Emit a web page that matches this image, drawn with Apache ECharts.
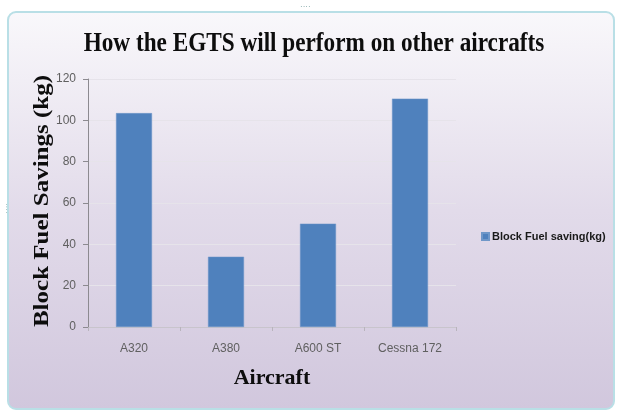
<!DOCTYPE html>
<html>
<head>
<meta charset="utf-8">
<script src="https://cdn.jsdelivr.net/npm/echarts@6/dist/echarts.min.js"></script>
<style>
html,body{margin:0;padding:0;background:#ffffff;}
#c{width:617px;height:412px;}
</style>
</head>
<body>
<div id="c"></div>
<script>
const categories = ['A320', 'A380', 'A600 ST', 'Cessna 172'];
const fuelSavings = [103.5, 34, 50, 110.5];
const yTicks = [0, 20, 40, 60, 80, 100, 120];
const seriesName = 'Block Fuel saving(kg)';
const titleText = 'How the EGTS will perform on other aircrafts';
const yAxisTitle = 'Block Fuel Savings (kg)';
const xAxisTitle = 'Aircraft';

const chart = echarts.init(document.getElementById('c'), null, {renderer: 'canvas'});
chart.setOption({
  animation: false,
  backgroundColor: '#ffffff',
  graphic: [
    {
      type: 'rect', z: -10, silent: true,
      shape: {x: 8, y: 12, width: 606, height: 397, r: 8},
      style: {
        fill: new echarts.graphic.LinearGradient(0, 0, 0, 1, [
          {offset: 0, color: '#f9f8fb'},
          {offset: 0.5, color: '#e2dbea'},
          {offset: 1, color: '#d1c7dd'}
        ]),
        stroke: '#b9dfe6', lineWidth: 2
      }
    },
    {
      type: 'text', x: 314, y: 44, scaleX: 0.86, silent: true,
      style: {text: titleText, fill: '#0d0d0d', font: 'bold 27px "Liberation Serif"', align: 'center', verticalAlign: 'middle'}
    },
    {
      type: 'text', x: 42, y: 201, rotation: Math.PI / 2, scaleY: 0.88, silent: true,
      style: {text: yAxisTitle, fill: '#0d0d0d', font: 'bold 25px "Liberation Serif"', align: 'center', verticalAlign: 'middle'}
    },
    {type: 'text', left: 300, top: 3, silent: true, style: {text: '····', fill: '#8aa', font: '8px sans-serif'}},
    {type: 'text', left: 3, top: 203, rotation: Math.PI/2, silent: true, style: {text: '····', fill: '#8aa', font: '8px sans-serif'}}
  ],
  legend: {
    data: [seriesName],
    left: 476, top: 226, orient: 'vertical',
    itemWidth: 7, itemHeight: 7, itemGap: 4,
    icon: 'rect',
    textStyle: {fontFamily: 'Liberation Sans', fontWeight: 'bold', fontSize: 11, color: '#1a1a1a', padding: [0,0,0,-2]}
  },
  grid: {left: 88, right: 161, top: 79, bottom: 85},
  xAxis: {
    type: 'category',
    data: categories,
    name: xAxisTitle,
    nameLocation: 'middle',
    nameGap: 40,
    nameTextStyle: {fontFamily: 'Liberation Serif', fontWeight: 'bold', fontSize: 22, color: '#0d0d0d'},
    axisLine: {lineStyle: {color: '#c8c4cc', width: 1}},
    axisTick: {show: true, length: 4, lineStyle: {color: '#b8b4bc'}},
    axisLabel: {fontFamily: 'Liberation Sans', fontSize: 12, color: '#606060', margin: 16}
  },
  yAxis: {
    type: 'value',
    min: 0, max: 120, interval: 20,
    axisLine: {show: true, lineStyle: {color: '#8c8a90', width: 1}},
    axisTick: {show: true, length: 5, lineStyle: {color: '#8c8a90'}},
    axisLabel: {fontFamily: 'Liberation Sans', fontSize: 12, color: '#606060', margin: 12,
      formatter: v => yTicks.includes(v) ? String(v) : ''},
    splitLine: {lineStyle: {color: '#e6e3ea', width: 1}}
  },
  series: [{
    name: seriesName,
    type: 'bar',
    data: fuelSavings,
    barWidth: 36,
    itemStyle: {color: '#4f81bd', borderColor: '#6f97c8', borderWidth: 0.5}
  }]
});
</script>
</body>
</html>
